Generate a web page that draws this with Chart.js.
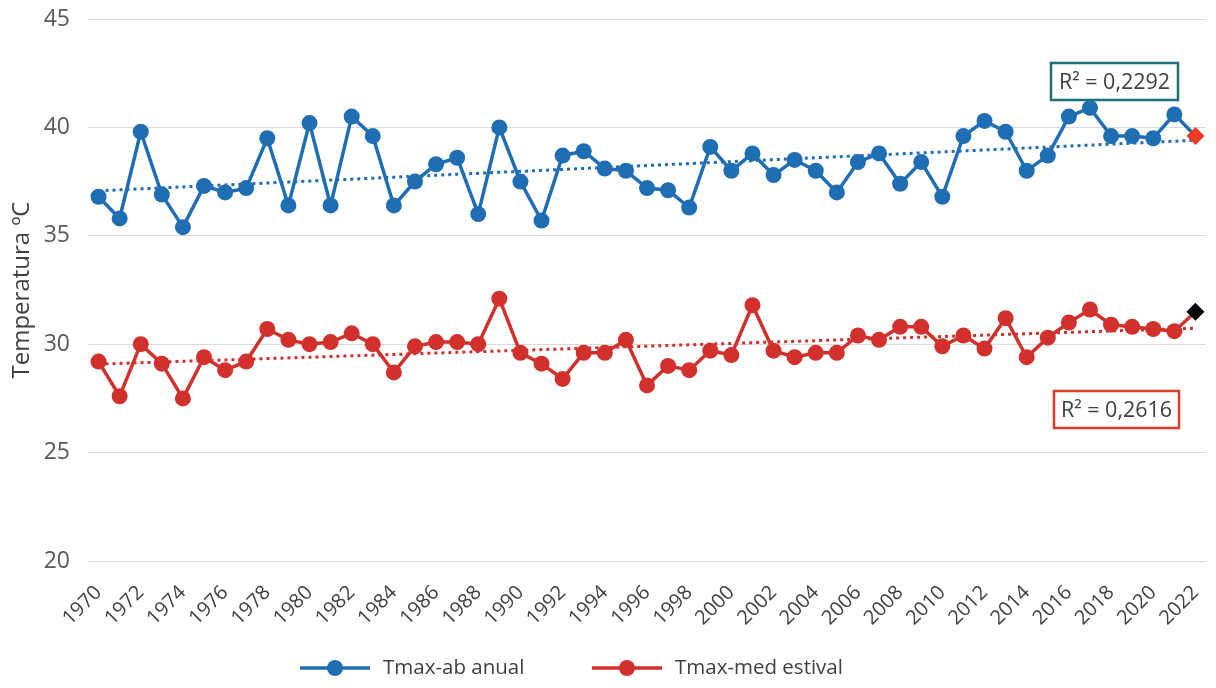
<!DOCTYPE html>
<html>
<head>
<meta charset="utf-8">
<script src="https://cdn.jsdelivr.net/npm/chart.js@4/dist/chart.umd.min.js"></script>
<style>
  html, body { margin: 0; padding: 0; background: #ffffff; }
  #wrap { width: 1216px; height: 688px; position: relative; }
</style>
</head>
<body>
<div id="wrap"><canvas id="c" width="1216" height="688"></canvas></div>
<script>
// Years on the category axis
const years = [
  '1970','1971','1972','1973','1974','1975','1976','1977','1978','1979',
  '1980','1981','1982','1983','1984','1985','1986','1987','1988','1989',
  '1990','1991','1992','1993','1994','1995','1996','1997','1998','1999',
  '2000','2001','2002','2003','2004','2005','2006','2007','2008','2009',
  '2010','2011','2012','2013','2014','2015','2016','2017','2018','2019',
  '2020','2021','2022'
];

// Annual absolute maximum temperature (ºC)
const tmaxAnual = [
  36.8, 35.8, 39.8, 36.9, 35.4, 37.3, 37.0, 37.2, 39.5, 36.4,
  40.2, 36.4, 40.5, 39.6, 36.4, 37.5, 38.3, 38.6, 36.0, 40.0,
  37.5, 35.7, 38.7, 38.9, 38.1, 38.0, 37.2, 37.1, 36.3, 39.1,
  38.0, 38.8, 37.8, 38.5, 38.0, 37.0, 38.4, 38.8, 37.4, 38.4,
  36.8, 39.6, 40.3, 39.8, 38.0, 38.7, 40.5, 40.9, 39.6, 39.6,
  39.5, 40.6, 39.6
];

// Mean summer maximum temperature (ºC)
const tmaxEstival = [
  29.2, 27.6, 30.0, 29.1, 27.5, 29.4, 28.8, 29.2, 30.7, 30.2,
  30.0, 30.1, 30.5, 30.0, 28.7, 29.9, 30.1, 30.1, 30.0, 32.1,
  29.6, 29.1, 28.4, 29.6, 29.6, 30.2, 28.1, 29.0, 28.8, 29.7,
  29.5, 31.8, 29.7, 29.4, 29.6, 29.6, 30.4, 30.2, 30.8, 30.8,
  29.9, 30.4, 29.8, 31.2, 29.4, 30.3, 31.0, 31.6, 30.9, 30.8,
  30.7, 30.6, 31.5
];

const seriesNames = ['Tmax-ab anual', 'Tmax-med estival'];
const r2Labels = ['R² = 0,2292', 'R² = 0,2616'];
const yTicks = [20, 25, 30, 35, 40, 45];

const BLUE = '#1F6DB3';
const RED = '#D1302D';
const TEAL = '#1E6F78';
const BOX_RED = '#DF3B2A';
const TEXT = '#595959';
const DARK = '#404040';
const FONT = '"Open Sans", "Noto Sans", sans-serif';

// Least-squares linear trend across the series
function linearTrend(vals) {
  const n = vals.length;
  let sx = 0, sy = 0, sxx = 0, sxy = 0;
  vals.forEach((v, i) => { sx += i; sy += v; sxx += i * i; sxy += i * v; });
  const b = (n * sxy - sx * sy) / (n * sxx - sx * sx);
  const a = (sy - b * sx) / n;
  return vals.map((_, i) => a + b * i);
}

const last = years.length - 1;
const markerStyle = ctx => ctx.dataIndex === last ? 'rectRot' : 'circle';
const markerRadius = ctx => ctx.dataIndex === last ? 9 : 8;

// Legend (line + circle) and R² boxes drawn onto the canvas
const decorations = {
  id: 'decorations',
  afterDraw(chart) {
    const ctx = chart.ctx;
    ctx.save();
    // legend
    const legendY = 668;
    const items = [
      { name: seriesNames[0], color: BLUE, x: 300 },
      { name: seriesNames[1], color: RED, x: 592 }
    ];
    items.forEach(it => {
      ctx.strokeStyle = it.color;
      ctx.lineWidth = 3.5;
      ctx.beginPath();
      ctx.moveTo(it.x, legendY);
      ctx.lineTo(it.x + 70, legendY);
      ctx.stroke();
      ctx.fillStyle = it.color;
      ctx.beginPath();
      ctx.arc(it.x + 35, legendY, 8, 0, Math.PI * 2);
      ctx.fill();
      ctx.fillStyle = DARK;
      ctx.font = '20.5px ' + FONT;
      ctx.textBaseline = 'middle';
      ctx.textAlign = 'left';
      ctx.fillText(it.name, it.x + 83, legendY);
    });
    // R² boxes
    const boxes = [
      { text: r2Labels[0], color: TEAL, x: 1051, y: 63, w: 127, h: 37 },
      { text: r2Labels[1], color: BOX_RED, x: 1054, y: 391, w: 125, h: 37 }
    ];
    boxes.forEach(b => {
      ctx.fillStyle = '#ffffff';
      ctx.fillRect(b.x, b.y, b.w, b.h);
      ctx.strokeStyle = b.color;
      ctx.lineWidth = 2.5;
      ctx.strokeRect(b.x, b.y, b.w, b.h);
      ctx.fillStyle = DARK;
      ctx.font = '21.5px ' + FONT;
      ctx.textAlign = 'center';
      ctx.textBaseline = 'middle';
      ctx.fillText(b.text, b.x + b.w / 2, b.y + b.h / 2 + 1);
    });
    ctx.restore();
  }
};

// Fixed axis boxes so the plotting area spans the same region every time
function fixBox(size, key) {
  return s => {
    s[key] = size;
    s.paddingTop = 0; s.paddingBottom = 0;
    s.paddingLeft = 0; s.paddingRight = 0;
  };
}

new Chart(document.getElementById('c'), {
  type: 'line',
  data: {
    labels: years,
    datasets: [
      {
        label: seriesNames[0] + ' (tendencia)',
        data: linearTrend(tmaxAnual),
        borderColor: BLUE,
        borderWidth: 3,
        borderDash: [3, 4],
        pointRadius: 0,
        fill: false,
        order: 3
      },
      {
        label: seriesNames[1] + ' (tendencia)',
        data: linearTrend(tmaxEstival),
        borderColor: RED,
        borderWidth: 3,
        borderDash: [3, 4],
        pointRadius: 0,
        fill: false,
        order: 3
      },
      {
        label: seriesNames[0],
        data: tmaxAnual,
        borderColor: BLUE,
        borderWidth: 3.5,
        pointStyle: markerStyle,
        pointRadius: markerRadius,
        pointBorderWidth: 0,
        pointBackgroundColor: tmaxAnual.map((_, i) => i === last ? '#F03A25' : BLUE),
        fill: false,
        order: 1
      },
      {
        label: seriesNames[1],
        data: tmaxEstival,
        borderColor: RED,
        borderWidth: 3.5,
        pointStyle: markerStyle,
        pointRadius: markerRadius,
        pointBorderWidth: 0,
        pointBackgroundColor: tmaxEstival.map((_, i) => i === last ? '#000000' : RED),
        fill: false,
        order: 2
      }
    ]
  },
  options: {
    responsive: false,
    animation: false,
    layout: { padding: { top: 19, right: 10, bottom: 0, left: 0 } },
    plugins: { legend: { display: false }, tooltip: { enabled: false } },
    scales: {
      x: {
        offset: true,
        grid: { display: false },
        border: { display: false },
        ticks: {
          autoSkip: false,
          maxRotation: 45,
          minRotation: 45,
          padding: 12,
          color: DARK,
          font: { family: FONT, size: 20 },
          callback: (v, i) => (i % 2 === 0 ? years[i] : '')
        },
        afterFit: fixBox(127, 'height')
      },
      y: {
        min: yTicks[0],
        max: yTicks[yTicks.length - 1],
        afterBuildTicks: s => { s.ticks = yTicks.map(v => ({ value: v })); },
        grid: { color: '#D9D9D9', lineWidth: 1, drawTicks: false },
        border: { display: false },
        ticks: { color: TEXT, padding: 18, font: { family: FONT, size: 23 } },
        title: {
          display: true,
          text: 'Temperatura ºC',
          color: DARK,
          padding: { top: 8, bottom: 0 },
          font: { family: FONT, size: 24 }
        },
        afterFit: fixBox(88, 'width')
      }
    }
  },
  plugins: [decorations]
});
</script>
</body>
</html>
